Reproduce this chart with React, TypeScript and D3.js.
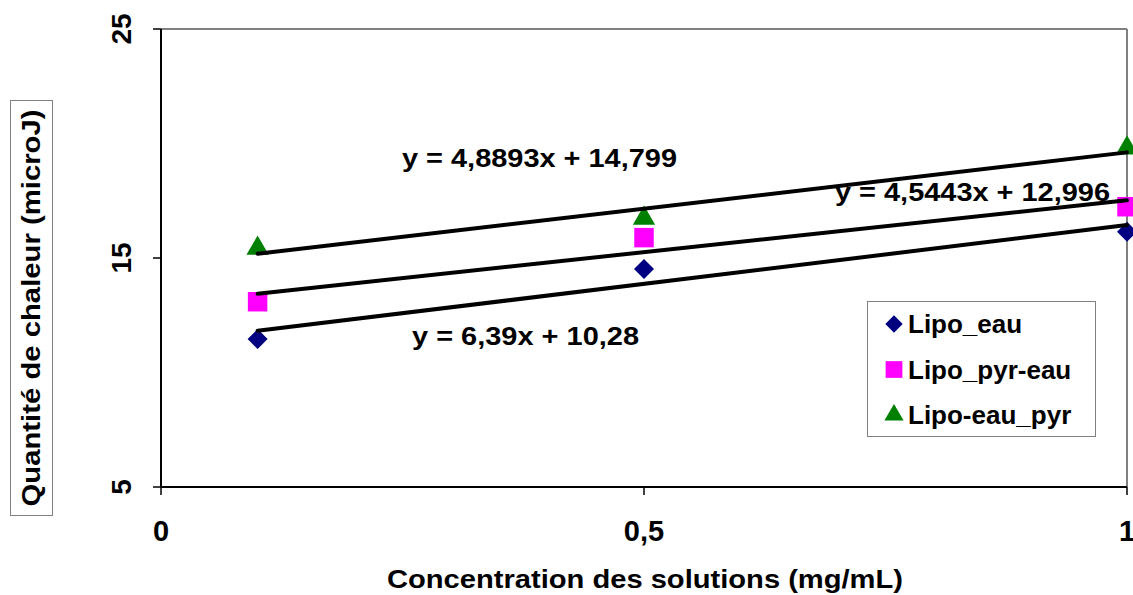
import React from "react";
import * as d3 from "d3";

const concentrations = [0.1, 0.5, 1];
const lipoEau = [11.46, 14.52, 16.15];
const lipoPyrEau = [13.09, 15.89, 17.24];
const lipoEauPyr = [15.42, 16.73, 19.8];

const seriesNames = ["Lipo_eau", "Lipo_pyr-eau", "Lipo-eau_pyr"];
const seriesColors = ["#000080", "#FF00FF", "#008000"];
const equationLabels = ["y = 6,39x + 10,28", "y = 4,5443x + 12,996", "y = 4,8893x + 14,799"];

const xTicks = [0, 0.5, 1];
const xTickLabels = ["0", "0,5", "1"];
const yTicks = [5, 15, 25];

const W = 1133, H = 595;
const L = 161, R = 1127, T = 29, B = 487;
const FONT = "'Liberation Sans', Arial, sans-serif";

function regress(xs: number[], ys: number[]) {
  const mx = d3.mean(xs)!, my = d3.mean(ys)!;
  const sxy = d3.sum(xs, (x, i) => (x - mx) * (ys[i] - my));
  const sxx = d3.sum(xs, (x) => (x - mx) * (x - mx));
  const m = sxy / sxx;
  return { m, b: my - m * mx };
}

export default function App() {
  const x = d3.scaleLinear().domain([0, 1]).range([L, R]);
  const y = d3.scaleLinear().domain([5, 25]).range([B, T]);
  const all = [lipoEau, lipoPyrEau, lipoEauPyr];
  const diamond = d3.symbol().type(d3.symbolSquare).size(200)()!;
  const square = d3.symbol().type(d3.symbolSquare).size(380)()!;
  const tri = d3.symbol().type(d3.symbolTriangle).size(215)()!;
  const diamondL = d3.symbol().type(d3.symbolSquare).size(150)()!;
  const squareL = d3.symbol().type(d3.symbolSquare).size(280)()!;
  const triL = d3.symbol().type(d3.symbolTriangle).size(160)()!;
  const markerPath = (i: number, legend = false) =>
    i === 0 ? (legend ? diamondL : diamond) : i === 1 ? (legend ? squareL : square) : legend ? triL : tri;
  const markerRot = (i: number) => (i === 0 ? " rotate(45)" : "");
  const xExt = d3.extent(concentrations) as [number, number];
  const line = d3.line<[number, number]>().x((d) => x(d[0])).y((d) => y(d[1]));

  const eqPos = [
    { x: 412, y: 345, w: 227 },
    { x: 835, y: 201, w: 275 },
    { x: 402, y: 167, w: 275 },
  ];

  return (
    <svg width={W} height={H} style={{ position: "absolute", left: 0, top: 0, background: "#fff" }} fontFamily={FONT} fontWeight="bold">
      {/* plot frame */}
      <line x1={L} x2={R} y1={T} y2={T} stroke="#808080" strokeWidth={2} />
      <line x1={R} x2={R} y1={T} y2={B} stroke="#808080" strokeWidth={2} />
      <line x1={L} x2={L} y1={T} y2={B} stroke="#000" strokeWidth={2} />
      <line x1={L} x2={R} y1={B} y2={B} stroke="#000" strokeWidth={2} />
      {yTicks.map((t) => (
        <g key={t}>
          <line x1={L - 8} x2={L} y1={y(t)} y2={y(t)} stroke="#000" strokeWidth={1.5} />
          <text transform={`translate(131,${y(t)}) rotate(-90)`} textAnchor="middle" fontSize={28}>{t}</text>
        </g>
      ))}
      {xTicks.map((t, i) => (
        <g key={t}>
          <line x1={x(t)} x2={x(t)} y1={B} y2={B + 8} stroke="#000" strokeWidth={1.5} />
          <text x={x(t)} y={541} textAnchor="middle" fontSize={29}>{xTickLabels[i]}</text>
        </g>
      ))}
      <text x={645} y={588} textAnchor="middle" fontSize={25} textLength={516} lengthAdjust="spacingAndGlyphs">
        Concentration des solutions (mg/mL)
      </text>
      <rect x={10.5} y={100.5} width={42} height={415} fill="#fff" stroke="#808080" strokeWidth={1} />
      <text transform="translate(40,308) rotate(-90)" textAnchor="middle" fontSize={25} textLength={397} lengthAdjust="spacingAndGlyphs">
        Quantité de chaleur (microJ)
      </text>
      {/* markers */}
      {all.map((vals, si) =>
        vals.map((v, j) => (
          <path key={si + "-" + j} d={markerPath(si)} fill={seriesColors[si]}
            transform={`translate(${x(concentrations[j])},${y(v)})${markerRot(si)}`} />
        ))
      )}
      {/* trend lines */}
      {all.map((vals, si) => {
        const { m, b } = regress(concentrations, vals);
        const pts: [number, number][] = xExt.map((c) => [c, m * c + b]);
        return <path key={"l" + si} d={line(pts)!} fill="none" stroke="#000" strokeWidth={4} strokeLinecap="round" />;
      })}
      {equationLabels.map((lab, i) => (
        <text key={lab} x={eqPos[i].x} y={eqPos[i].y} fontSize={25} textLength={eqPos[i].w} lengthAdjust="spacingAndGlyphs">{lab}</text>
      ))}
      {/* legend */}
      <rect x={867.5} y={301.5} width={228} height={135} fill="#fff" stroke="#808080" strokeWidth={1} />
      {seriesNames.map((n, i) => (
        <g key={n} transform={`translate(0,${324 + i * 45.5})`}>
          <path d={markerPath(i, true)} fill={seriesColors[i]} transform={`translate(894,0)${markerRot(i)}`} />
          <text x={908} y={9} fontSize={26}>{n}</text>
        </g>
      ))}
    </svg>
  );
}
